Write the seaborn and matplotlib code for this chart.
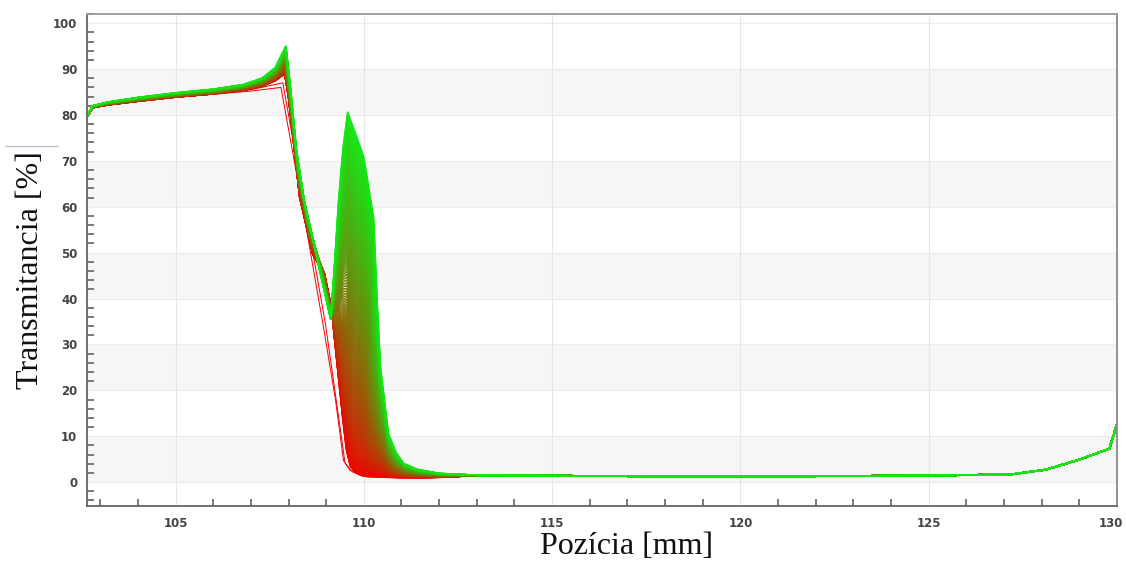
import numpy as np
import pandas as pd
import matplotlib
matplotlib.use('Agg')
import matplotlib.pyplot as plt
import matplotlib.transforms as mtransforms
import seaborn as sns
from matplotlib.ticker import MultipleLocator
from matplotlib.lines import Line2D

# ---- data ----
# earliest (red) profile, points in correspondence with the latest (green) profile
red_x = [102.65, 102.8, 103.2, 104.0, 105.0, 106.0, 106.8, 107.3, 107.65, 107.9, 108.0,
         108.3, 108.65, 108.95, 109.15, 109.24, 109.34, 109.44, 109.54, 109.64, 109.78,
         109.95, 110.1, 110.4, 110.7, 110.9, 111.2, 111.6, 112.2]
red_y = [79.6, 81.6, 82.2, 83.0, 83.9, 84.6, 85.4, 86.3, 87.5, 89.0, 84.0,
         62.0, 49.5, 45.5, 37.5, 30.0, 22.0, 14.0, 7.0, 3.5, 2.0,
         1.4, 1.2, 1.1, 1.05, 1.0, 1.0, 1.0, 1.1]
green_x = [102.65, 102.8, 103.2, 104.0, 105.0, 106.0, 106.8, 107.3, 107.65, 107.93, 108.05,
           108.2, 108.4, 108.75, 109.12, 109.22, 109.33, 109.45, 109.57, 109.8, 110.0,
           110.26, 110.35, 110.44, 110.65, 110.85, 111.05, 111.4, 112.0]
green_y = [79.8, 82.0, 82.8, 83.8, 84.8, 85.6, 86.6, 88.0, 90.3, 95.0, 86.0,
           73.0, 62.0, 49.0, 35.5, 47.0, 61.3, 73.0, 80.6, 75.5, 70.8,
           57.7, 40.0, 25.0, 10.6, 6.5, 4.1, 2.8, 1.9]
# common tail of all curves
floor_x = [113.0, 115.0, 117.0, 120.0, 122.0, 124.0, 125.6, 127.2, 128.1, 129.0, 129.8, 130.0]
floor_y = [1.5, 1.4, 1.3, 1.3, 1.3, 1.4, 1.5, 1.7, 2.7, 4.9, 7.3, 12.7]
# a few early red curves that skip the shoulder
out1_x = [102.65, 102.8, 103.2, 104.0, 105.0, 106.0, 107.0, 107.8, 108.35, 108.93, 109.25,
          109.46, 109.64, 110.5, 112.0]
out1_y = [79.6, 81.6, 82.2, 83.0, 83.9, 84.5, 85.2, 86.0, 61.0, 33.7, 17.8,
          4.7, 2.5, 1.2, 1.2]
out2_x = [102.65, 102.8, 103.2, 104.0, 105.0, 106.0, 107.0, 107.85, 108.4, 108.98, 109.3,
          109.5, 109.7, 110.5, 112.0]
out2_y = [79.6, 81.6, 82.2, 83.0, 83.9, 84.6, 85.5, 87.0, 61.5, 34.5, 16.0,
          4.2, 2.2, 1.2, 1.2]
# blend weights of the curve family (earliest -> latest)
n_curves = 130
blend_power = 1.3
red_rgb = (0.95, 0.0, 0.0)
green_rgb = (0.08, 0.9, 0.08)

x_ticks = [105, 110, 115, 120, 125, 130]
y_ticks = [0, 10, 20, 30, 40, 50, 60, 70, 80, 90, 100]

# ---- build long table ----
rx, ry = np.array(red_x), np.array(red_y)
gx, gy = np.array(green_x), np.array(green_y)
rows = []
palette = []
for k, s in enumerate(np.linspace(0, 1, n_curves)):
    t = s ** blend_power
    xs = np.r_[(1 - t) * rx + t * gx, floor_x]
    ys = np.r_[(1 - t) * ry + t * gy, floor_y]
    for a, b in zip(xs, ys):
        rows.append((f"c{k:03d}", a, b))
    palette.append(tuple((1 - s) * np.array(red_rgb) + s * np.array(green_rgb)))
df = pd.DataFrame(rows, columns=["curve", "x", "y"])

out_rows = []
for name, ox, oy in (("o1", out1_x, out1_y), ("o2", out2_x, out2_y)):
    for a, b in zip(list(ox) + floor_x, list(oy) + floor_y):
        out_rows.append((name, a, b))
df_out = pd.DataFrame(out_rows, columns=["curve", "x", "y"])

sns.set_style('white')
plt.rcParams['font.family'] = ['DejaVu Sans']

fig = plt.figure(figsize=(11.26, 5.66), dpi=100)
ax = fig.add_axes([0.0773, 0.106, 0.9147, 0.8693])

# background bands and grid
for lo in (0, 20, 40, 60, 80):
    ax.axhspan(lo, lo + 10, color='#f6f6f6', zorder=0, lw=0)
for yv in y_ticks:
    ax.axhline(yv, color='#ececec', lw=0.8, zorder=0.5)
for xv in x_ticks[:-1]:
    ax.axvline(xv, color='#e6e6e6', lw=0.8, zorder=0.5)

sns.lineplot(data=df_out, x='x', y='y', units='curve', estimator=None, sort=False,
             color=red_rgb, lw=0.7, ax=ax, legend=False)
sns.lineplot(data=df, x='x', y='y', hue='curve', palette=palette, estimator=None,
             sort=False, lw=1.2, ax=ax, legend=False)

ax.set_xlim(102.65, 130.0)
ax.set_ylim(-5.2, 102)
ax.set_xticks(x_ticks)
ax.set_yticks(y_ticks)
ax.xaxis.set_minor_locator(MultipleLocator(1))
ax.yaxis.set_minor_locator(MultipleLocator(2))
ax.tick_params(axis='y', which='major', direction='out', length=5, width=1.1,
               color='#555555', labelsize=8.5, labelcolor='#444444', pad=2)
ax.tick_params(axis='y', which='minor', direction='in', length=5, width=1.1,
               color='#555555', left=True)
ax.tick_params(axis='x', which='major', direction='inout', length=10, width=1.1,
               color='#555555', labelsize=8.5, labelcolor='#444444', pad=3)
ax.tick_params(axis='x', which='minor', direction='in', length=5, width=1.1,
               color='#555555', bottom=True)
for lbl in ax.get_xticklabels() + ax.get_yticklabels():
    lbl.set_fontweight('bold')
last = ax.get_xticklabels()[-1]
last.set_transform(last.get_transform() +
                   mtransforms.ScaledTranslation(-6 / 100, 0, fig.dpi_scale_trans))

for side, col in (('left', '#666666'), ('bottom', '#666666'), ('top', '#999999'), ('right', '#888888')):
    ax.spines[side].set_visible(True)
    ax.spines[side].set_color(col)
    ax.spines[side].set_linewidth(1.3)

ax.set_xlabel('Pozícia [mm]', fontsize=23, family=['Liberation Serif', 'DejaVu Serif'], color='#111111')
ax.set_ylabel('Transmitancia [%]', fontsize=23, family=['Liberation Serif', 'DejaVu Serif'], color='#111111')
ax.xaxis.set_label_coords(0.524, -0.052)
ax.yaxis.set_label_coords(-0.041, 0.48)

fig.add_artist(Line2D([5 / 1126, 58 / 1126], [1 - 146 / 566, 1 - 146 / 566],
                      transform=fig.transFigure, color='#b9c3cf', lw=1))

fig.savefig('out.png', dpi=100, facecolor='white')
